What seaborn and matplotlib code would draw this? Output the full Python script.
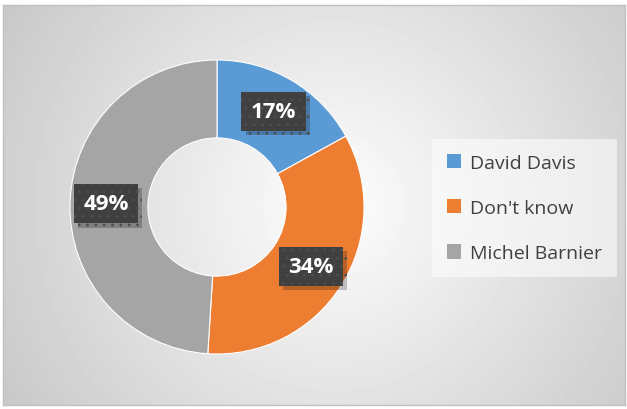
import numpy as np
import matplotlib.pyplot as plt
import matplotlib.patheffects as pe
import seaborn as sns

# dane
labels = ["David Davis", "Don't know", "Michel Barnier"]
values = [17, 34, 49]
colors = ["#5B9BD5", "#ED7D31", "#A5A5A5"]

sns.set_style("white")
plt.rcParams['font.family'] = ['Open Sans', 'DejaVu Sans']
plt.rcParams['hatch.linewidth'] = 0.8

W, H = 627, 410
fig = plt.figure(figsize=(W / 100, H / 100), dpi=100)

# tlo z gradientem radialnym
bg = fig.add_axes([3 / W, 4 / H, 622 / W, 400 / H])
yy, xx = np.mgrid[0:400, 0:622]
r = np.sqrt((xx - 330) ** 2 + (yy - 200) ** 2)
img = 254 - 0.14 * r
bg.imshow(img, cmap='gray', vmin=0, vmax=255, aspect='auto', interpolation='bilinear')
bg.set_xticks([])
bg.set_yticks([])
for s in bg.spines.values():
    s.set_color('#c0c0c0')
    s.set_linewidth(1)

# donut
cx, cy, R = 217, 208, 147
ax = fig.add_axes([(cx - R) / W, (H - cy - R) / H, 2 * R / W, 2 * R / H])
wedges, _ = ax.pie(values, colors=colors, startangle=90, counterclock=False,
                   radius=1, wedgeprops=dict(width=0.53, edgecolor='white', linewidth=0.8))
ax.set_xlim(-1, 1)
ax.set_ylim(-1, 1)
ax.set_aspect('equal')
ax.axis('off')

# etykiety procentowe
total = sum(values)
start = 90
for v in values:
    mid = np.deg2rad(start - v / total * 360 / 2)
    start -= v / total * 360
    x, y = 0.755 * np.cos(mid), 0.755 * np.sin(mid)
    t = ax.text(x, y, f"{v}%", ha='center', va='center', fontsize=16,
                fontweight='bold', color='white',
                bbox=dict(boxstyle='square,pad=0.42', facecolor='#404040',
                          edgecolor='#4e4e4e', linewidth=0, hatch='..'))
    t.get_bbox_patch().set_path_effects(
        [pe.SimplePatchShadow(offset=(3, -3), shadow_rgbFace='#000000', alpha=0.22), pe.Normal()])

# legenda
leg = fig.legend(wedges, labels, loc='center left', bbox_to_anchor=(432 / W, 1 - 209 / H),
                 borderaxespad=0, frameon=True, fontsize=14, handlelength=0.75,
                 handleheight=0.75, handletextpad=0.45, labelspacing=1.4, borderpad=0.75,
                 labelcolor='#404040')
leg.get_frame().set_facecolor('white')
leg.get_frame().set_alpha(0.55)
leg.get_frame().set_edgecolor('none')
leg.get_frame().set_boxstyle('square', pad=0)
for h in leg.legend_handles:
    h.set_edgecolor('none')

fig.savefig('out.png', dpi=100)
